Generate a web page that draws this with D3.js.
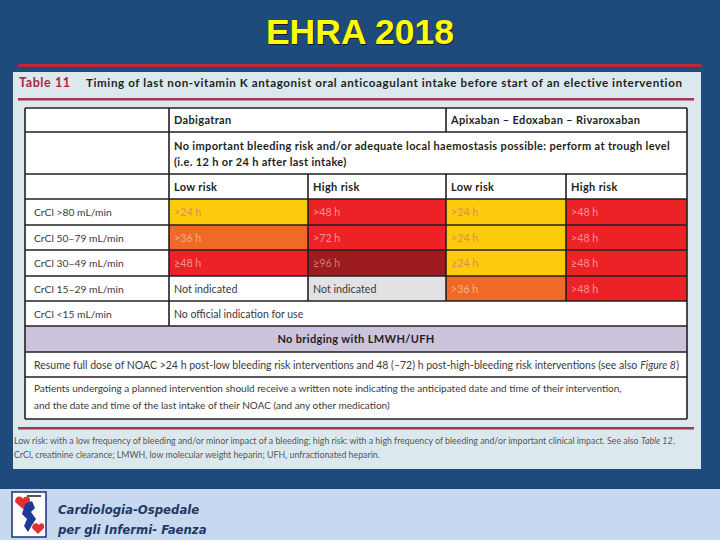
<!DOCTYPE html>
<html>
<head>
<meta charset="utf-8">
<script src="https://cdn.jsdelivr.net/npm/d3@7"></script>
<style>
  body { margin: 0; background: #1f4a7c; }
  svg { display: block; }
</style>
</head>
<body>
<svg id="chart" width="720" height="540"></svg>
<script>
// ---- data ----
var slideTitle = "EHRA 2018";
var tableNumber = "Table 11";
var tableTitle = "Timing of last non-vitamin K antagonist oral anticoagulant intake before start of an elective intervention";
var drugGroups = ["Dabigatran", "Apixaban \u2013 Edoxaban \u2013 Rivaroxaban"];
var conditionLines = ["No important bleeding risk and/or adequate local haemostasis possible: perform at trough level",
                      "(i.e. 12 h or 24 h after last intake)"];
var riskLevels = ["Low risk", "High risk", "Low risk", "High risk"];
var renalClasses = ["CrCl >80 mL/min", "CrCl 50\u201379 mL/min", "CrCl 30\u201349 mL/min", "CrCl 15\u201329 mL/min", "CrCl <15 mL/min"];
var timing = [
  [">24 h", ">48 h", ">24 h", ">48 h"],
  [">36 h", ">72 h", ">24 h", ">48 h"],
  ["\u226548 h", "\u226596 h", "\u226524 h", "\u226548 h"],
  ["Not indicated", "Not indicated", ">36 h", ">48 h"]
];
var timingLevel = [
  ["short", "long", "short", "long"],
  ["mid", "long", "short", "long"],
  ["long", "longest", "short", "long"],
  ["none", "na", "mid", "long"]
];
var lastRowText = "No official indication for use";
var bridgingText = "No bridging with LMWH/UFH";
var resumeText = "Resume full dose of NOAC >24 h post-low bleeding risk interventions and 48 (\u201372) h post-high-bleeding risk interventions (see also";
var resumeRef = "Figure 8";
var noteLines = ["Patients undergoing a planned intervention should receive a written note indicating the anticipated date and time of their intervention,",
                 "and the date and time of the last intake of their NOAC (and any other medication)"];
var footnotes = ["Low risk: with a low frequency of bleeding and/or minor impact of a bleeding; high risk: with a high frequency of bleeding and/or important clinical impact. See also",
                 "CrCl, creatinine clearance; LMWH, low molecular weight heparin; UFH, unfractionated heparin."];
var footnoteRef = "Table 12";
var hospitalLines = ["Cardiologia-Ospedale", "per gli Infermi- Faenza"];

// ---- scales ----
var svg = d3.select("#chart");
var font = "Lato, 'Open Sans', sans-serif";
var ink = "#231f20";

// column edges and row edges of the table grid
var x = d3.scaleLinear().domain([0, 1, 2, 3, 4, 5]).range([25, 169, 308, 446, 566, 687]);
var y = d3.scaleLinear().domain([0, 1, 2, 3, 4, 5, 6, 7, 8, 9, 10, 11])
  .range([108, 132, 174, 199, 225, 250, 276, 301, 326, 352, 377, 419]);

var fillColor = d3.scaleOrdinal()
  .domain(["short", "mid", "long", "longest", "na", "none"])
  .range(["#fdca0c", "#ef6a25", "#ec2227", "#9c1c20", "#e2e2e4", "#ffffff"]);
var textColor = d3.scaleOrdinal()
  .domain(["short", "mid", "long", "longest", "na", "none"])
  .range(["#de8a66", "#f6b08c", "#f59292", "#d47a7a", "#3a3a3a", "#3a3a3a"]);

// ---- background pieces ----
svg.append("rect").attr("width", 720).attr("height", 540).attr("fill", "#1f4a7c");
svg.append("rect").attr("x", 0).attr("y", 489).attr("width", 720).attr("height", 51).attr("fill", "#c6d9f0");

svg.append("text").attr("x", 361).attr("y", 45).attr("text-anchor", "middle")
  .attr("font-family", "'Liberation Sans', Arial, sans-serif").attr("font-weight", "bold")
  .attr("font-size", 35.5).attr("fill", "#1a1a1a").text(slideTitle);
svg.append("text").attr("x", 360).attr("y", 44).attr("text-anchor", "middle")
  .attr("font-family", "'Liberation Sans', Arial, sans-serif").attr("font-weight", "bold")
  .attr("font-size", 35.5).attr("fill", "#ffff00").text(slideTitle);

svg.append("rect").attr("x", 18).attr("y", 64).attr("width", 684).attr("height", 3).attr("fill", "#c0243c");
svg.append("rect").attr("x", 13).attr("y", 72).attr("width", 688).attr("height", 397).attr("fill", "#dbe9ee");

function label(g, tx, ty, str, opts) {
  opts = opts || {};
  return g.append("text").attr("x", tx).attr("y", ty)
    .attr("font-family", font)
    .attr("font-weight", opts.bold ? "bold" : "normal")
    .attr("font-style", opts.italic ? "italic" : "normal")
    .attr("font-size", opts.size || 10.5)
    .attr("letter-spacing", opts.ls || 0)
    .attr("text-anchor", opts.anchor || "start")
    .attr("fill", opts.fill || "#3a3a3a")
    .text(str);
}
// a plain text followed by an italic reference and closing punctuation
function withRef(g, tx, ty, str, ref, tail, opts) {
  var t = label(g, tx, ty, str, opts);
  var w = t.node().getComputedTextLength();
  var o = Object.assign({}, opts, {italic: true});
  var r = label(g, tx + w + opts.size * 0.28, ty, ref, o);
  var w2 = r.node().getComputedTextLength();
  label(g, tx + w + opts.size * 0.28 + w2 + 0.5, ty, tail, opts);
}

// table caption
label(svg, 19, 87, tableNumber, {bold: true, size: 12.5, ls: 0.6, fill: "#b01d3f"});
label(svg, 86, 87, tableTitle, {bold: true, size: 11.6, ls: 0.6, fill: ink});
svg.append("rect").attr("x", 18).attr("y", 98).attr("width", 676).attr("height", 2.5).attr("fill", "#a8344f");
svg.append("rect").attr("x", 18).attr("y", 427).attr("width", 676).attr("height", 2.5).attr("fill", "#a8344f");

// ---- table cells ----
var table = svg.append("g");
table.append("rect").attr("x", x(0)).attr("y", y(0)).attr("width", x(5) - x(0)).attr("height", y(11) - y(0)).attr("fill", "#fff");
table.append("rect").attr("x", x(0)).attr("y", y(8)).attr("width", x(5) - x(0)).attr("height", y(9) - y(8)).attr("fill", "#ccc3dc");

var cells = [];
timing.forEach(function(row, r) {
  row.forEach(function(v, c) {
    cells.push({row: r, col: c, text: v, level: timingLevel[r][c]});
  });
});

table.selectAll("rect.cell").data(cells).enter().append("rect")
  .attr("class", "cell")
  .attr("x", function(d) { return x(d.col + 1); })
  .attr("y", function(d) { return y(d.row + 3); })
  .attr("width", function(d) { return x(d.col + 2) - x(d.col + 1); })
  .attr("height", function(d) { return y(d.row + 4) - y(d.row + 3); })
  .attr("fill", function(d) { return fillColor(d.level); });

table.selectAll("text.cell").data(cells).enter().append("text")
  .attr("class", "cell")
  .attr("x", function(d) { return x(d.col + 1) + 5; })
  .attr("y", function(d) { return (y(d.row + 3) + y(d.row + 4)) / 2 + 4; })
  .attr("font-family", font).attr("font-size", 10.7)
  .attr("fill", function(d) { return textColor(d.level); })
  .text(function(d) { return d.text; });

// header rows
var hdr = {bold: true, size: 11, ls: 0.35, fill: ink};
drugGroups.forEach(function(g, i) {
  label(table, x(i * 2 + 1) + 5, (y(0) + y(1)) / 2 + 4, g, hdr);
});
conditionLines.forEach(function(s, i) {
  label(table, x(1) + 5, y(1) + 18 + i * 16, s, hdr);
});
riskLevels.forEach(function(s, i) {
  label(table, x(i + 1) + 5, (y(2) + y(3)) / 2 + 4, s, hdr);
});
renalClasses.forEach(function(s, i) {
  label(table, x(0) + 9, (y(i + 3) + y(i + 4)) / 2 + 4, s, {size: 10.3});
});
label(table, x(1) + 5, (y(7) + y(8)) / 2 + 4, lastRowText, {size: 10.5});
label(table, (x(0) + x(5)) / 2, (y(8) + y(9)) / 2 + 4, bridgingText, {bold: true, size: 11, ls: 0.35, fill: ink, anchor: "middle"});

withRef(table, x(0) + 9, (y(9) + y(10)) / 2 + 4, resumeText, resumeRef, ")", {size: 10.5});
noteLines.forEach(function(s, i) {
  label(table, x(0) + 9, y(10) + 15 + i * 17, s, {size: 10});
});

// grid lines
var hLines = d3.range(0, 12);
table.selectAll("line.h").data(hLines).enter().append("line")
  .attr("x1", x(0)).attr("x2", x(5))
  .attr("y1", function(d) { return y(d); }).attr("y2", function(d) { return y(d); })
  .attr("stroke", ink).attr("stroke-width", 1.6);
var vLines = [
  {c: 0, r0: 0, r1: 11}, {c: 5, r0: 0, r1: 11},
  {c: 1, r0: 0, r1: 8},
  {c: 3, r0: 0, r1: 1}, {c: 3, r0: 2, r1: 7},
  {c: 2, r0: 2, r1: 7}, {c: 4, r0: 2, r1: 7}
];
table.selectAll("line.v").data(vLines).enter().append("line")
  .attr("x1", function(d) { return x(d.c); }).attr("x2", function(d) { return x(d.c); })
  .attr("y1", function(d) { return y(d.r0); }).attr("y2", function(d) { return y(d.r1); })
  .attr("stroke", ink).attr("stroke-width", 1.6);

// footnotes
withRef(svg, 14, 444, footnotes[0], footnoteRef, ".", {size: 8.8, fill: "#555"});
label(svg, 14, 458, footnotes[1], {size: 8.8, fill: "#555"});

// ---- footer ----
var logo = svg.append("g").attr("transform", "translate(12,492)");
logo.append("rect").attr("width", 34).attr("height", 45).attr("fill", "#fff").attr("stroke", "#1d2f7a").attr("stroke-width", 1.5);
logo.append("path").attr("d", "M3,10 C3,4 9,3 11,7 C13,3 19,4 18,10 L11,17 Z").attr("fill", "#e03030");
logo.append("path").attr("d", "M20,36 C20,31 25,30 27,33 C29,30 33,31 32,36 L26,42 Z").attr("fill", "#e03030");
logo.append("path").attr("d", "M13,12 L20,9 L23,16 L19,20 L24,27 L20,33 L16,40 L12,34 L15,27 L10,22 Z").attr("fill", "#1d3a9a");
logo.append("rect").attr("x", 15).attr("y", 3).attr("width", 14).attr("height", 2).attr("fill", "#555");

hospitalLines.forEach(function(s, i) {
  svg.append("text").attr("x", 58).attr("y", 514 + i * 20)
    .attr("font-family", "'DejaVu Sans Condensed', 'DejaVu Sans', sans-serif")
    .attr("font-weight", "bold").attr("font-style", "italic")
    .attr("font-size", 13).attr("fill", "#1f3864")
    .text(s);
});
</script>
</body>
</html>
